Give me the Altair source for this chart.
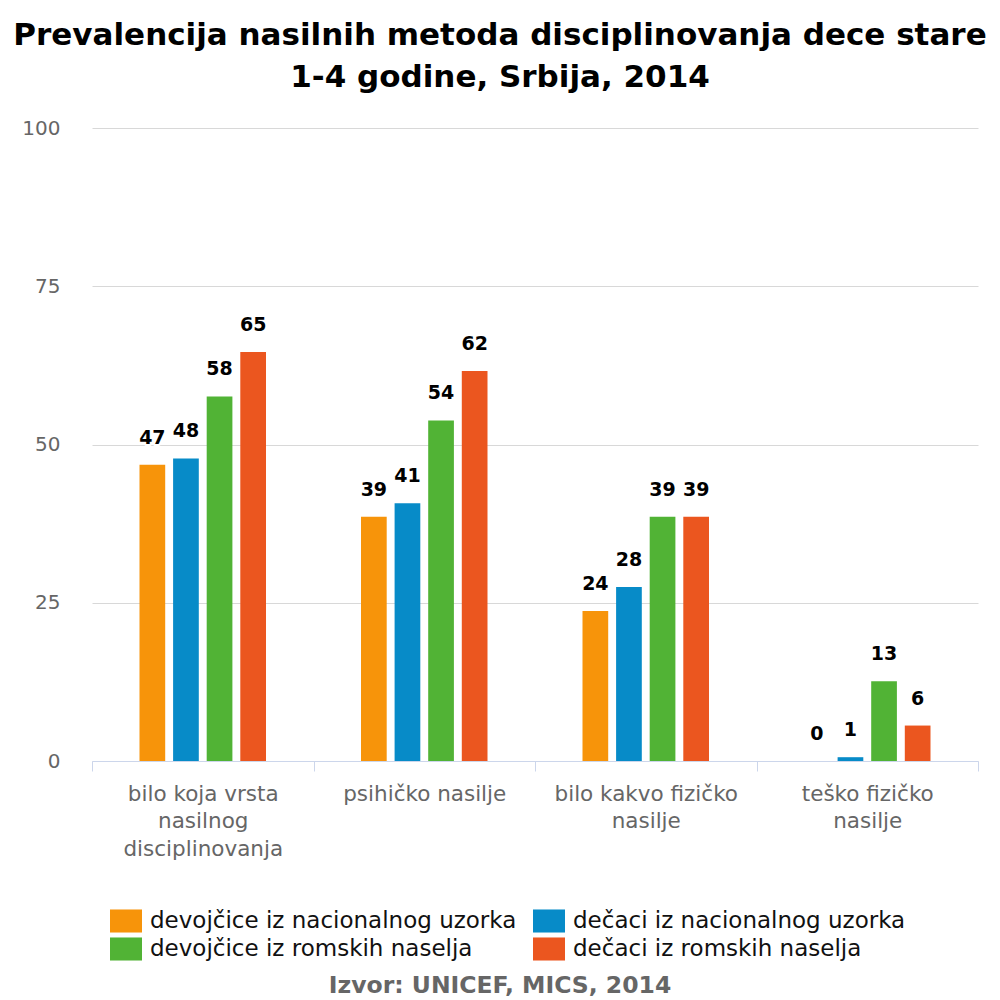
import altair as alt
import pandas as pd

title_lines = ["Prevalencija nasilnih metoda disciplinovanja dece stare", "1-4 godine, Srbija, 2014"]
source_text = "Izvor: UNICEF, MICS, 2014"

categories = [
    "bilo koja vrsta nasilnog disciplinovanja",
    "psihičko nasilje",
    "bilo kakvo fizičko nasilje",
    "teško fizičko nasilje",
]
category_lines = [
    ["bilo koja vrsta", "nasilnog", "disciplinovanja"],
    ["psihičko nasilje"],
    ["bilo kakvo fizičko", "nasilje"],
    ["teško fizičko", "nasilje"],
]
series = [
    "devojčice iz nacionalnog uzorka",
    "dečaci iz nacionalnog uzorka",
    "devojčice iz romskih naselja",
    "dečaci iz romskih naselja",
]
colors = ["#F7940A", "#078BC8", "#51B335", "#EB561F"]

girls_national = [46.8, 38.6, 23.7, 0.0]
boys_national = [47.8, 40.7, 27.5, 0.6]
girls_roma = [57.6, 53.8, 38.6, 12.6]
boys_roma = [64.6, 61.6, 38.6, 5.6]
y_ticks = [0, 25, 50, 75, 100]

rows = []
for s, vals in zip(series, [girls_national, boys_national, girls_roma, boys_roma]):
    for c, v in zip(categories, vals):
        rows.append({"kategorija": c, "grupa": s, "vrednost": v})
df = pd.DataFrame(rows)

# label expression for multi-line category labels
expr = "datum.value"
for c, lines in reversed(list(zip(categories, category_lines))):
    arr = "[" + ",".join("'" + l + "'" for l in lines) + "]"
    expr = f"datum.value == '{c}' ? {arr} : ({expr})"

FONT = "DejaVu Sans"

base = alt.Chart(df).encode(
    x=alt.X(
        "kategorija:N",
        sort=categories,
        scale=alt.Scale(paddingInner=0, paddingOuter=0),
        axis=alt.Axis(
            title=None,
            labelAngle=0,
            labelExpr=expr,
            labelFont=FONT,
            labelFontSize=21.5,
            labelColor="#666666",
            labelLineHeight=27.5,
            labelPadding=12,
            domainColor="#ccd6eb",
            tickColor="#ccd6eb",
            tickSize=10,
            tickBand="extent",
            grid=False,
            labelLimit=400,
        ),
    ),
    xOffset=alt.XOffset(
        "grupa:N", sort=series,
        scale=alt.Scale(range=[47.5, 174], paddingInner=0.235, paddingOuter=0),
    ),
    y=alt.Y(
        "vrednost:Q",
        scale=alt.Scale(domain=[0, 100], nice=False),
        axis=alt.Axis(
            title=None,
            values=y_ticks,
            domain=False,
            ticks=False,
            labelPadding=32,
            labelFont=FONT,
            labelFontSize=20,
            labelColor="#666666",
            gridColor="#d8d8d8",
        ),
    ),
)

bars = base.mark_bar().encode(
    color=alt.Color(
        "grupa:N",
        sort=series,
        scale=alt.Scale(domain=series, range=colors),
        legend=alt.Legend(
            title=None,
            orient="none",
            legendX=18,
            legendY=777,
            direction="horizontal",
            columns=2,
            gridAlign="none",
            columnPadding=16,
            rowPadding=0,
            labelFont=FONT,
            labelFontSize=23,
            labelColor="#111111",
            labelOffset=8,
            labelLimit=600,
            symbolType="M-1,-0.72H1V0.72H-1Z",
            symbolSize=1024,
            symbolStrokeWidth=0,
            symbolOpacity=1,
        ),
    )
)

halo = base.mark_text(
    font=FONT, fontSize=19, fontWeight="bold", baseline="alphabetic", dy=-21,
    stroke="white", strokeWidth=4, strokeJoin="round", color="white",
).encode(text=alt.Text("vrednost:Q", format=".0f"))

labels = base.mark_text(
    font=FONT, fontSize=19, fontWeight="bold", baseline="alphabetic", dy=-21, color="#000000",
).encode(text=alt.Text("vrednost:Q", format=".0f"))

source = alt.Chart(pd.DataFrame({"t": [source_text]})).mark_text(
    font=FONT, fontSize=23.5, fontWeight="bold", color="#666666", baseline="alphabetic", align="center"
).encode(text="t:N", x=alt.value(408), y=alt.value(865))

chart = alt.layer(bars, halo, labels, source).properties(
    width=886,
    height=633,
    autosize=alt.AutoSizeParams(type="none"),
    padding={"left": 84, "top": 120, "right": 14, "bottom": 242},
    title=alt.TitleParams(
        text=title_lines,
        font=FONT,
        fontSize=31,
        fontWeight="bold",
        color="#000000",
        anchor="middle",
        dx=-35,
        offset=24,
        lineHeight=42,
    ),
).configure_view(stroke=None)

chart.save("out.html", embed_options={"renderer": "svg", "actions": False})
